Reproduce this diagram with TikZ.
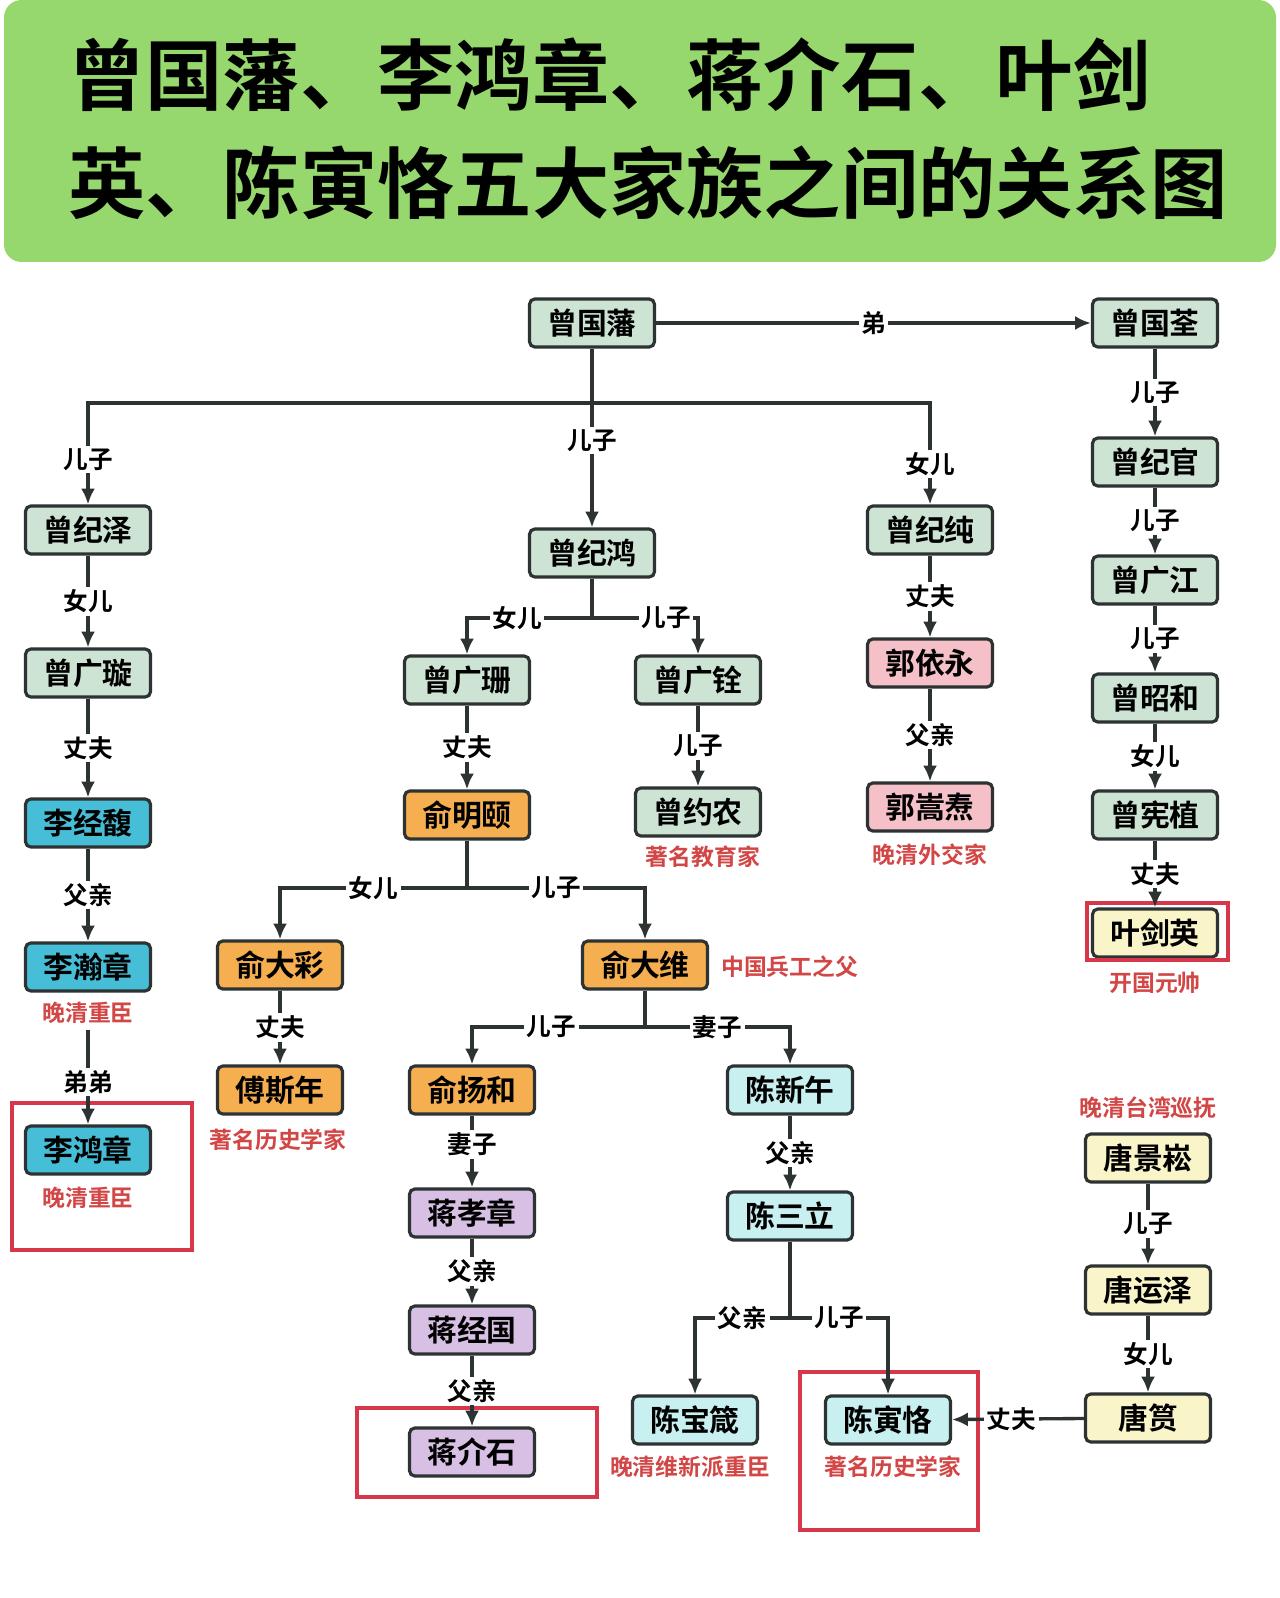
\documentclass[tikz,border=0pt]{standalone}
\usepackage{fontspec}
\setmainfont{Noto Sans CJK SC}[BoldFont={Noto Sans CJK SC Bold}]
\usetikzlibrary{arrows.meta, positioning}

\definecolor{titlegreen}{RGB}{150,215,110}
\definecolor{linegray}{RGB}{45,50,50}
\definecolor{capred}{RGB}{210,70,70}
\definecolor{boxred}{RGB}{215,55,75}
\definecolor{cgreen}{RGB}{205,228,212}
\definecolor{ccyan}{RGB}{70,190,215}
\definecolor{cpink}{RGB}{245,192,200}
\definecolor{corange}{RGB}{245,175,80}
\definecolor{clcyan}{RGB}{200,240,240}
\definecolor{clav}{RGB}{215,192,228}
\definecolor{cyellow}{RGB}{250,245,200}

\begin{document}
\begin{tikzpicture}[x=0.02cm, y=-0.02cm,
    person/.style={draw=linegray, line width=1.8pt, rounded corners=3pt, minimum width=2.5cm,
        minimum height=0.96cm, inner sep=1pt, font=\fontsize{17}{17}\selectfont\bfseries},
    lab/.style={fill=white, inner sep=1.5pt, font=\fontsize{14}{14}\selectfont\bfseries},
    caption/.style={text=capred, font=\fontsize{13}{13}\selectfont\bfseries},
    link/.style={draw=linegray, line width=1.9pt},
    arrow/.style={link, -{Latex[length=9pt, width=8pt]}},
    markbox/.style={draw=boxred, line width=2.2pt}
]

% Frame and title
\useasboundingbox (0,0) rectangle (1280,1598);
\fill[white] (0,0) rectangle (1280,1598);
\fill[titlegreen, rounded corners=10pt] (4,0) rectangle (1276,262);
\node[anchor=west, font=\fontsize{44}{44}\selectfont\bfseries] (title1) at (62,75) {曾国藩、李鸿章、蒋介石、叶剑};
\node[anchor=west, font=\fontsize{44}{44}\selectfont\bfseries] (title2) at (62,183) {英、陈寅恪五大家族之间的关系图};

% People
\node[person, fill=cgreen] (gfan) at (592,323) {曾国藩};
\node[person, fill=cgreen] (gquan) at (1155,323) {曾国荃};
\node[person, fill=cgreen] (jze) at (88,530) {曾纪泽};
\node[person, fill=cgreen] (jhong) at (592,553) {曾纪鸿};
\node[person, fill=cgreen] (jchun) at (930,530) {曾纪纯};
\node[person, fill=cgreen] (jguan) at (1155,462) {曾纪官};
\node[person, fill=cgreen] (gjiang) at (1155,580) {曾广江};
\node[person, fill=cgreen] (zhe) at (1155,698) {曾昭和};
\node[person, fill=cgreen] (xzhi) at (1155,815) {曾宪植};
\node[person, fill=cyellow] (jying) at (1155,933) {叶剑英};
\node[person, fill=cgreen] (gxuan) at (88,673) {曾广璇};
\node[person, fill=ccyan] (jfu) at (88,823) {李经馥};
\node[person, fill=ccyan] (hanz) at (88,967) {李瀚章};
\node[person, fill=ccyan] (hongz) at (88,1150) {李鸿章};
\node[person, fill=cgreen] (gshan) at (467,680) {曾广珊};
\node[person, fill=cgreen] (gquan2) at (698,680) {曾广铨};
\node[person, fill=cgreen] (ynong) at (698,812) {曾约农};
\node[person, fill=cpink] (yyong) at (930,663) {郭依永};
\node[person, fill=cpink] (stao) at (930,807) {郭嵩焘};
\node[person, fill=corange] (myi) at (467,815) {俞明颐};
\node[person, fill=corange] (dcai) at (280,965) {俞大彩};
\node[person, fill=corange] (dwei) at (645,965) {俞大维};
\node[person, fill=corange] (snian) at (280,1090) {傅斯年};
\node[person, fill=corange] (yhe) at (472,1090) {俞扬和};
\node[person, fill=clcyan] (xwu) at (790,1090) {陈新午};
\node[person, fill=clav] (xzhang) at (472,1213) {蒋孝章};
\node[person, fill=clav] (jguo) at (472,1330) {蒋经国};
\node[person, fill=clav] (jshi) at (472,1452) {蒋介石};
\node[person, fill=clcyan] (sli) at (790,1216) {陈三立};
\node[person, fill=clcyan] (bzhen) at (695,1420) {陈宝箴};
\node[person, fill=clcyan] (yke) at (888,1420) {陈寅恪};
\node[person, fill=cyellow] (jsong) at (1148,1158) {唐景崧};
\node[person, fill=cyellow] (yze) at (1148,1290) {唐运泽};
\node[person, fill=cyellow] (tyun) at (1148,1418) {唐筼};

% Captions
\node[caption] (cap1) at (703,857) {著名教育家};
\node[caption] (cap2) at (930,855) {晚清外交家};
\node[caption] (cap3) at (1155,983) {开国元帅};
\node[caption] (cap4) at (88,1013) {晚清重臣};
\node[caption] (cap5) at (88,1198) {晚清重臣};
\node[caption, anchor=west] (cap6) at (715,967) {中国兵工之父};
\node[caption] (cap7) at (278,1140) {著名历史学家};
\node[caption] (cap8) at (893,1467) {著名历史学家};
\node[caption] (cap9) at (1148,1108) {晚清台湾巡抚};
\node[caption] (cap10) at (690,1467) {晚清维新派重臣};

% Highlight frames
\draw[markbox] (12,1103) rectangle (192,1250);
\draw[markbox] (1087,903) rectangle (1228,960);
\draw[markbox] (357,1408) rectangle (597,1497);
\draw[markbox] (800,1372) rectangle (978,1530);

% Zeng Guofan branch
\draw[arrow] (gfan) -- node[lab]{弟} (gquan);
\coordinate (j1) at (592,403);
\draw[link] (gfan) -- (j1);
\draw[arrow] (j1) -| node[lab, pos=0.78]{儿子} (jze);
\draw[arrow] (j1) -- node[lab, pos=0.3]{儿子} (jhong);
\draw[arrow] (j1) -| node[lab, pos=0.8]{女儿} (jchun);

% Zeng Guoquan line
\draw[arrow] (gquan) -- node[lab]{儿子} (jguan);
\draw[arrow] (jguan) -- node[lab]{儿子} (gjiang);
\draw[arrow] (gjiang) -- node[lab]{儿子} (zhe);
\draw[arrow] (zhe) -- node[lab]{女儿} (xzhi);
\draw[arrow] (xzhi) -- node[lab]{丈夫} (jying);

% Zeng Jize line
\draw[arrow] (jze) -- node[lab]{女儿} (gxuan);
\draw[arrow] (gxuan) -- node[lab]{丈夫} (jfu);
\draw[arrow] (jfu) -- node[lab]{父亲} (hanz);
\draw[arrow] (cap4.south) -- node[lab, pos=0.55]{弟弟} (hongz);

% Zeng Jihong line
\coordinate (j2) at (592,618);
\draw[link] (jhong) -- (j2);
\draw[arrow] (j2) -| node[lab, pos=0.3]{女儿} (gshan);
\draw[arrow] (j2) -| node[lab, pos=0.35]{儿子} (gquan2);
\draw[arrow] (gshan) -- node[lab]{丈夫} (myi);
\draw[arrow] (gquan2) -- node[lab]{儿子} (ynong);

% Zeng Jichun line
\draw[arrow] (jchun) -- node[lab]{丈夫} (yyong);
\draw[arrow] (yyong) -- node[lab]{父亲} (stao);

% Yu family
\coordinate (j3) at (467,888);
\draw[link] (myi) -- (j3);
\draw[arrow] (j3) -| node[lab, pos=0.25]{女儿} (dcai);
\draw[arrow] (j3) -| node[lab, pos=0.25]{儿子} (dwei);
\draw[arrow] (dcai) -- node[lab]{丈夫} (snian);
\coordinate (j4) at (645,1027);
\draw[link] (dwei) -- (j4);
\draw[arrow] (j4) -| node[lab, pos=0.27]{儿子} (yhe);
\draw[arrow] (j4) -| node[lab, pos=0.25]{妻子} (xwu);

% Jiang line
\draw[arrow] (yhe) -- node[lab, pos=0.4]{妻子} (xzhang);
\draw[arrow] (xzhang) -- node[lab]{父亲} (jguo);
\draw[arrow] (jguo) -- node[lab]{父亲} (jshi);

% Chen line
\draw[arrow] (xwu) -- node[lab]{父亲} (sli);
\coordinate (j5) at (790,1318);
\draw[link] (sli) -- (j5);
\draw[arrow] (j5) -| node[lab, pos=0.25]{父亲} (bzhen);
\draw[arrow] (j5) -| node[lab, pos=0.25]{儿子} (yke);

% Tang line
\draw[arrow] (jsong) -- node[lab]{儿子} (yze);
\draw[arrow] (yze) -- node[lab]{女儿} (tyun);
\draw[arrow] (tyun) -- node[lab, pos=0.55]{丈夫} (yke);

\end{tikzpicture}
\end{document}
